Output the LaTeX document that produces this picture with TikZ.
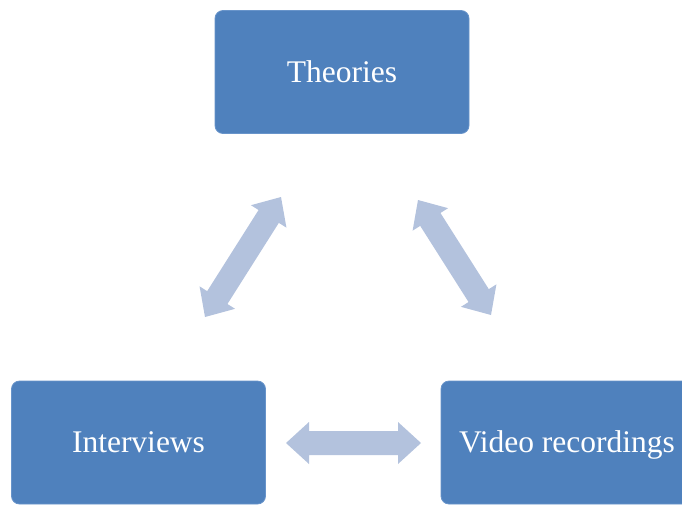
\documentclass[tikz,border=0pt]{standalone}
\usepackage{fontspec}
\setmainfont{Liberation Serif}
\usetikzlibrary{calc}
\definecolor{boxfill}{RGB}{79,129,189}
\definecolor{boxedge}{RGB}{104,148,202}
\definecolor{arrowfill}{RGB}{179,194,221}
\tikzset{
  box/.style={rectangle, rounded corners=8pt, fill=boxfill, draw=boxedge, line width=0.8pt,
    minimum width=254pt, minimum height=123pt, inner sep=0pt, text=white,
    text height=24pt, text depth=4pt,
    font=\fontsize{31.5}{36}\selectfont},
  dblarr/.style={fill=arrowfill}
}
\newcommand\dblarrow[2]{%
  \fill[dblarr] (#1)
    -- ($(#1)!23pt!(#2)!21pt!90:(#2)$)
    -- ($(#1)!23pt!(#2)!12pt!90:(#2)$)
    -- ($(#2)!23pt!(#1)!12pt!-90:(#1)$)
    -- ($(#2)!23pt!(#1)!21pt!-90:(#1)$)
    -- (#2)
    -- ($(#2)!23pt!(#1)!21pt!90:(#1)$)
    -- ($(#2)!23pt!(#1)!12pt!90:(#1)$)
    -- ($(#1)!23pt!(#2)!12pt!-90:(#2)$)
    -- ($(#1)!23pt!(#2)!21pt!-90:(#2)$)
    -- cycle;}
\begin{document}
\begin{tikzpicture}[x=1pt,y=-1pt]
\useasboundingbox (0,0) rectangle (682,504);
\clip (0,0) rectangle (682,504);
\node[box] (theo) at (342,72) {Theories};
\node[box] (intv) at (138.5,442.5) {Interviews};
\node[box] (video) at (568,442.5) {\hspace*{-2pt}Video recordings};
\coordinate (l1) at (281,197);
\coordinate (l2) at (205,317);
\coordinate (r1) at (418,200);
\coordinate (r2) at (491,315);
\coordinate (h1) at (286,443);
\coordinate (h2) at (421,443);
\dblarrow{l1}{l2}
\dblarrow{r1}{r2}
\dblarrow{h1}{h2}
\end{tikzpicture}
\end{document}
